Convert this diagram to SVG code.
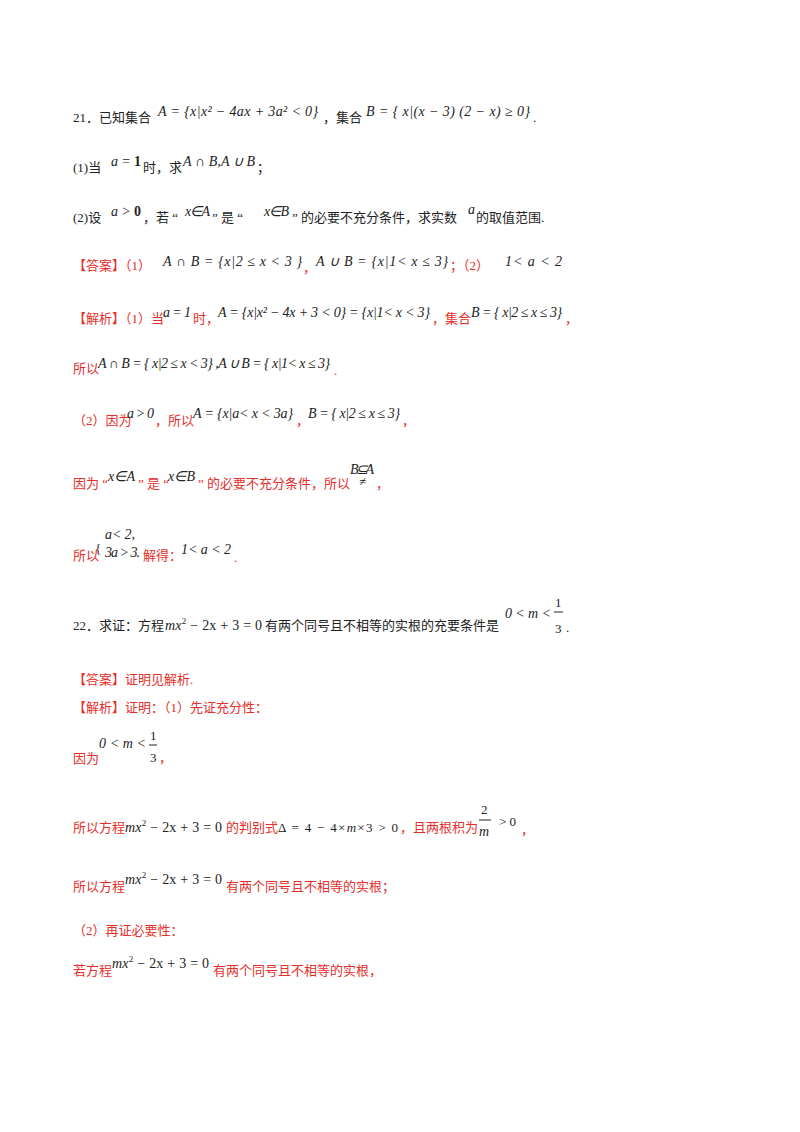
<svg xmlns="http://www.w3.org/2000/svg" width="800" height="1132" viewBox="0 0 800 1132">
<style>
text{font-family:"Liberation Serif","Noto Sans CJK SC",serif;font-size:13px;fill:#222}
.r{fill:#e62e2b}
.m{font-family:"Liberation Serif",serif;font-style:italic;font-size:14px}
.b{font-weight:bold}
</style>
<rect width="800" height="1132" fill="#fff"/>
<text x="73" y="122">21．已知集合</text>
<text x="158" y="116" class="m" textLength="160" lengthAdjust="spacing">A = {x|x² − 4ax + 3a² &lt; 0}</text>
<text x="323" y="122">，集合</text>
<text x="366" y="116" class="m" textLength="164" lengthAdjust="spacing">B = { x|(x − 3) (2 − x) ≥ 0}</text>
<text x="533" y="122">.</text>
<text x="73" y="172">(1)当</text>
<text x="111" y="166" class="m" textLength="30" lengthAdjust="spacing">a = <tspan class="b" font-style="normal">1</tspan></text>
<text x="143" y="172">时，求</text>
<text x="183" y="166" class="m" textLength="72" lengthAdjust="spacing">A ∩ B,A ∪ B</text>
<text x="257" y="172">；</text>
<text x="73" y="222">(2)设</text>
<text x="111" y="216" class="m" textLength="30" lengthAdjust="spacing">a &gt; <tspan class="b" font-style="normal">0</tspan></text>
<text x="143" y="222">，若 “</text>
<text x="185" y="216" class="m" font-size="12" textLength="25" lengthAdjust="spacing">x ∈ A</text>
<text x="212" y="222">” 是 “</text>
<text x="264" y="216" class="m" font-size="12" textLength="25" lengthAdjust="spacing">x ∈ B</text>
<text x="292" y="222">” 的必要不充分条件，求实数</text>
<text x="468" y="214" class="m">a</text>
<text x="476" y="222">的取值范围.</text>

<text x="73" y="270" class="r">【答案】（1）</text>
<text x="163" y="266" class="m" textLength="139" lengthAdjust="spacing">A ∩ B = {x|2 ≤ x &lt; 3 }</text>
<text x="303" y="272" class="r">，</text>
<text x="316" y="266" class="m" textLength="132" lengthAdjust="spacing">A ∪ B = {x|1&lt; x ≤ 3}</text>
<text x="450" y="270" class="r">；（2）</text>
<text x="505" y="266" class="m" textLength="57" lengthAdjust="spacing">1&lt; a &lt; 2</text>

<text x="73" y="323" class="r">【解析】（1）当</text>
<text x="163" y="317" class="m" textLength="28" lengthAdjust="spacing">a = 1</text>
<text x="193" y="323" class="r">时，</text>
<text x="218" y="317" class="m" textLength="212" lengthAdjust="spacing">A = {x|x² − 4x + 3 &lt; 0} = {x|1&lt; x &lt; 3}</text>
<text x="432" y="323" class="r">，集合</text>
<text x="471" y="317" class="m" textLength="91" lengthAdjust="spacing">B = { x|2 ≤ x ≤ 3}</text>
<text x="565" y="323" class="r">，</text>

<text x="73" y="373" class="r">所以</text>
<text x="98" y="368" class="m" textLength="232" lengthAdjust="spacing">A ∩ B = { x|2 ≤ x &lt; 3} ,A ∪ B = { x|1&lt; x ≤ 3}</text>
<text x="334" y="375" class="r">.</text>

<text x="73" y="425" class="r">（2）因为</text>
<text x="127" y="418" class="m" textLength="27" lengthAdjust="spacing">a &gt; 0</text>
<text x="155" y="425" class="r">，所以</text>
<text x="193" y="418" class="m" textLength="100" lengthAdjust="spacing">A = {x|a&lt; x &lt; 3a}</text>
<text x="296" y="425" class="r">，</text>
<text x="308" y="418" class="m" textLength="92" lengthAdjust="spacing">B = { x|2 ≤ x ≤ 3}</text>
<text x="402" y="425" class="r">，</text>

<text x="73" y="488" class="r">因为 “</text>
<text x="108" y="481" class="m" font-size="12" textLength="27" lengthAdjust="spacing">x ∈ A</text>
<text x="138" y="488" class="r">” 是 “</text>
<text x="168" y="481" class="m" font-size="12" textLength="27" lengthAdjust="spacing">x ∈ B</text>
<text x="198" y="488" class="r">” 的必要不充分条件，所以</text>
<text x="350" y="474" class="m" textLength="24" lengthAdjust="spacing">B⊆A</text>
<text x="359" y="486" font-size="8">≠</text>
<text x="376" y="488" class="r">，</text>

<text x="73" y="560" class="r">所以</text>
<text x="95" y="553" font-size="26" font-family="Liberation Serif">{</text>
<text x="105" y="539" class="m" textLength="30" lengthAdjust="spacing">a&lt; 2,</text>
<text x="105" y="557" class="m" textLength="35" lengthAdjust="spacing">3a &gt; 3.</text>
<text x="143" y="560" class="r">解得：</text>
<text x="181" y="554" class="m" textLength="50" lengthAdjust="spacing">1&lt; a &lt; 2</text>
<text x="234" y="562" class="r">.</text>

<text x="73" y="630">22．求证：方程</text>
<text x="165" y="630" class="m" textLength="97" lengthAdjust="spacing">mx<tspan font-style="normal" font-size="9" dy="-6">2</tspan><tspan font-style="normal" dy="6"> − 2x + 3 = 0</tspan></text>
<text x="265" y="630">有两个同号且不相等的实根的充要条件是</text>
<text x="505" y="618" class="m" textLength="46" lengthAdjust="spacing">0 &lt; m &lt;</text>
<text x="555" y="607" font-size="12">1</text>
<line x1="554" y1="612" x2="563" y2="612" stroke="#222" stroke-width="1"/>
<text x="555" y="633" font-size="12">3</text>
<text x="566" y="632">.</text>

<text x="73" y="684" class="r">【答案】证明见解析.</text>
<text x="73" y="712" class="r">【解析】证明：（1）先证充分性：</text>

<text x="73" y="763" class="r">因为</text>
<text x="99" y="748" class="m" textLength="47" lengthAdjust="spacing">0 &lt; m &lt;</text>
<text x="150" y="740" font-size="12">1</text>
<line x1="149" y1="745" x2="157" y2="745" stroke="#222" stroke-width="1"/>
<text x="150" y="762" font-size="12">3</text>
<text x="159" y="762" class="r">，</text>

<text x="73" y="832" class="r">所以方程</text>
<text x="125" y="832" class="m" textLength="97" lengthAdjust="spacing">mx<tspan font-style="normal" font-size="9" dy="-6">2</tspan><tspan font-style="normal" dy="6"> − 2x + 3 = 0</tspan></text>
<text x="226" y="832" class="r">的判别式</text>
<text x="278" y="832" font-size="14" textLength="120" lengthAdjust="spacing">Δ = 4 − 4×<tspan font-style="italic">m</tspan>×3 &gt; 0</text>
<text x="400" y="832" class="r">，且两根积为</text>
<text x="481" y="814" font-size="13">2</text>
<line x1="479" y1="820" x2="491" y2="820" stroke="#222" stroke-width="1"/>
<text x="479" y="836" class="m" font-size="12">m</text>
<text x="499" y="826" font-size="14">&gt; 0</text>
<text x="521" y="834" class="r">，</text>

<text x="73" y="891" class="r">所以方程</text>
<text x="125" y="884" class="m" textLength="97" lengthAdjust="spacing">mx<tspan font-style="normal" font-size="9" dy="-6">2</tspan><tspan font-style="normal" dy="6"> − 2x + 3 = 0</tspan></text>
<text x="226" y="891" class="r">有两个同号且不相等的实根；</text>

<text x="73" y="935" class="r">（2）再证必要性：</text>

<text x="73" y="975" class="r">若方程</text>
<text x="112" y="968" class="m" textLength="97" lengthAdjust="spacing">mx<tspan font-style="normal" font-size="9" dy="-6">2</tspan><tspan font-style="normal" dy="6"> − 2x + 3 = 0</tspan></text>
<text x="213" y="975" class="r">有两个同号且不相等的实根，</text>
</svg>
